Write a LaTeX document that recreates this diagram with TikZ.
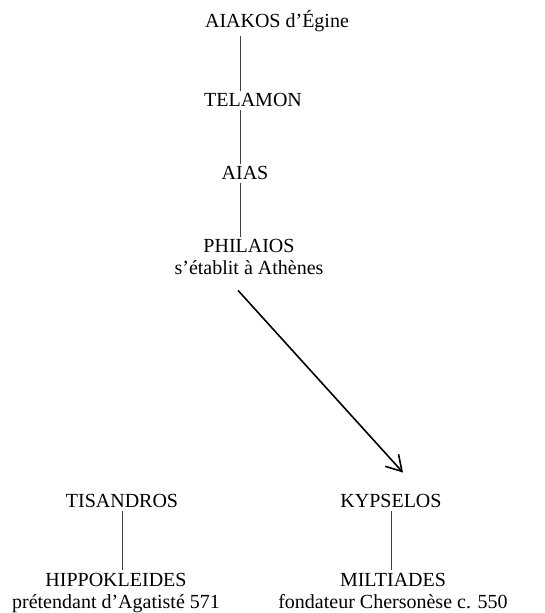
\documentclass[tikz,border=0pt]{standalone}
\usepackage{fontspec}
\setmainfont{Liberation Serif}
\usetikzlibrary{arrows.meta}

\begin{document}
\begin{tikzpicture}[
    x=1pt, y=1pt,
    person/.style={anchor=base, inner sep=3pt, align=center, font=\fontsize{20}{22}\selectfont},
    link/.style={line width=0.6pt, draw=black!75},
    arrow/.style={-{Straight Barb[length=15pt, width=18pt]}, line width=1.6pt}
]
\useasboundingbox (0,0) rectangle (544,613);

\coordinate (spine) at (240,0);

\node[person] (aiakos) at (277,585) {AIAKOS d'Égine};
\node[person] (telamon) at (253,506) {TELAMON};
\node[person] (aias) at (245,433) {AIAS};
\node[person] (philaios) at (249,338) {PHILAIOS\\s'établit à Athènes};

\node[person] (tisandros) at (122,105) {TISANDROS};
\node[person] (kypselos) at (391,105) {KYPSELOS};
\node[person] (hippokleides) at (116,5) {HIPPOKLEIDES\\prétendant d'Agatisté 571};
\node[person] (miltiades) at (393,5) {MILTIADES\\fondateur Chersonèse c. 550};

\draw[link] (aiakos.south -| spine) -- (telamon.north -| spine);
\draw[link] (telamon.south -| spine) -- (aias.north -| spine);
\draw[link] (aias.south -| spine) -- (philaios.north -| spine);
\draw[arrow] ([shift={(-11,-12)}]philaios.south) -- ([shift={(12,19)}]kypselos.north);
\draw[link] (tisandros.south) -- (tisandros.south |- hippokleides.north);
\draw[link] (kypselos.south) -- (kypselos.south |- miltiades.north);

\end{tikzpicture}
\end{document}
